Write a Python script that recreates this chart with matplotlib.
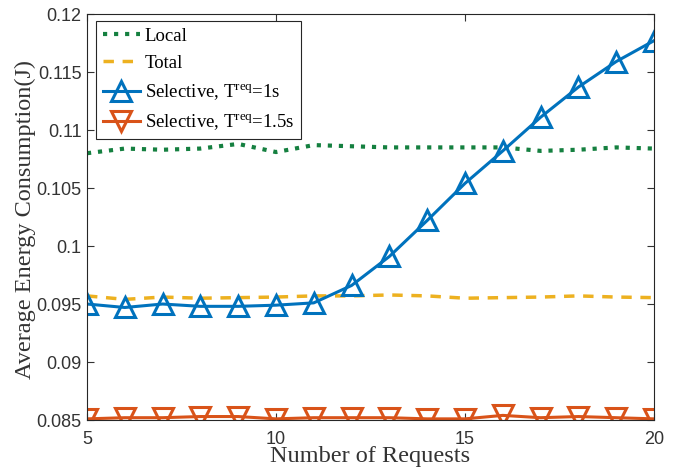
import matplotlib
matplotlib.use("Agg")
import matplotlib.pyplot as plt

requests = list(range(5, 21))
local = [0.1080, 0.1084, 0.1083, 0.1084, 0.1088, 0.1081, 0.1087, 0.1086,
         0.1085, 0.1085, 0.1085, 0.1085, 0.1082, 0.1083, 0.1085, 0.1084]
total = [0.0957, 0.0954, 0.0956, 0.0955, 0.09555, 0.0956, 0.0957, 0.0957,
         0.09578, 0.0957, 0.0955, 0.09555, 0.0956, 0.0957, 0.0956, 0.09555]
sel_1s = [0.0950, 0.0947, 0.0950, 0.0948, 0.0948, 0.0949, 0.0951, 0.0966,
          0.0991, 0.1022, 0.1054, 0.1082, 0.1111, 0.1137, 0.1159, 0.1177]
sel_15s = [0.0851, 0.0852, 0.0852, 0.0853, 0.0853, 0.0851, 0.0852, 0.0852,
           0.0852, 0.0851, 0.0851, 0.0854, 0.0852, 0.0853, 0.0852, 0.0851]

xticks = [5, 10, 15, 20]
yticks = [0.085, 0.09, 0.095, 0.1, 0.105, 0.11, 0.115, 0.12]
ytick_labels = ["0.085", "0.09", "0.095", "0.1", "0.105", "0.11", "0.115", "0.12"]

plt.rcParams['mathtext.fontset'] = 'custom'
plt.rcParams['mathtext.rm'] = 'Liberation Serif'
plt.rcParams['mathtext.it'] = 'Liberation Serif:italic'

fig = plt.figure(figsize=(6.77, 4.67), dpi=100)
ax = fig.add_axes([0.1285, 0.1006, 0.8375, 0.8694])

blue = '#0072BD'
orange = '#EDB120'
red = '#D95319'
green = '#158040'

ax.plot(requests, local, linestyle=':', color=green, linewidth=3, label='Local')
ax.plot(requests, total, linestyle=(0, (3, 2.5)), color=orange, linewidth=2.5, label='Total')
ax.plot(requests, sel_1s, '-^', color=blue, linewidth=2.2, markersize=15,
        markerfacecolor='none', markeredgewidth=2.2, label=r'Selective, T$^{\rm req}$=1s')
ax.plot(requests, sel_15s, '-v', color=red, linewidth=2.2, markersize=15,
        markerfacecolor='none', markeredgewidth=2.2, label=r'Selective, T$^{\rm req}$=1.5s')

ax.set_xlim(5, 20)
ax.set_ylim(0.085, 0.12)
ax.set_xticks(xticks)
ax.set_yticks(yticks)
ax.set_yticklabels(ytick_labels)
ax.tick_params(direction='in', top=True, right=True, length=5, width=0.8,
               labelsize=13, colors='#333333', pad=4)
ax.tick_params(axis='x', pad=8)
for lab in ax.get_xticklabels() + ax.get_yticklabels():
    lab.set_family('Liberation Sans')
for s in ax.spines.values():
    s.set_color('#262626')
    s.set_linewidth(0.8)

ax.set_xlabel('Number of Requests', family='Liberation Serif', fontsize=17.5, color='#333333')
ax.set_ylabel('Average Energy Consumption(J)', family='Liberation Serif', fontsize=17.5, color='#333333')
ax.xaxis.set_label_coords(0.5, -0.064)
ax.yaxis.set_label_coords(-0.09, 0.495)

leg = ax.legend(loc='upper left', bbox_to_anchor=(0.016, 0.983), prop={'family': 'Liberation Serif', 'size': 13.5},
                handlelength=2.0, handletextpad=0.25, labelspacing=0.55, borderpad=0.35,
                borderaxespad=0.0, fancybox=False, framealpha=1)
leg.get_frame().set_edgecolor('#262626')
leg.get_frame().set_linewidth(0.8)

fig.savefig('out.png', dpi=100)
